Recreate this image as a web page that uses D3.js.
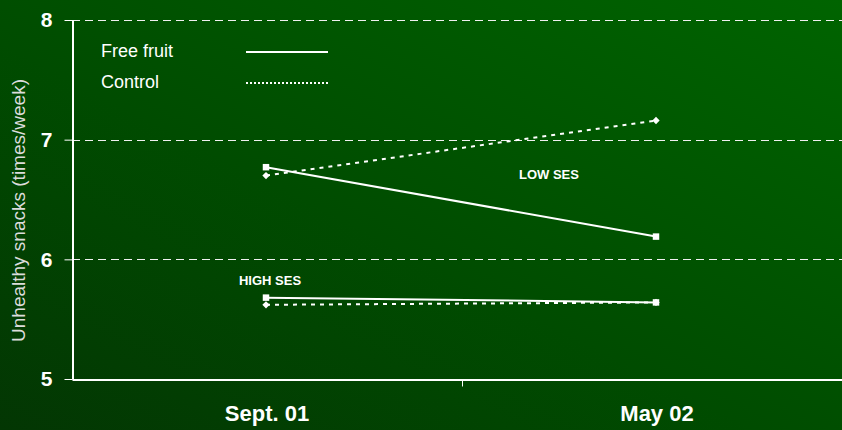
<!DOCTYPE html>
<html>
<head>
<meta charset="utf-8">
<script src="https://cdn.jsdelivr.net/npm/d3@7"></script>
<style>
  html, body { margin: 0; padding: 0; background: #004400; }
  svg { display: block; }
</style>
</head>
<body>
<svg id="chart" width="842" height="430"></svg>
<script>
// Measurement times
const periods = ["Sept. 01", "May 02"];
// Unhealthy snacks per week, by group
const freeFruitLow  = [6.77, 6.19];
const controlLow    = [6.70, 7.16];
const freeFruitHigh = [5.68, 5.64];
const controlHigh   = [5.62, 5.64];
const yTicks = [5, 6, 7, 8];
const legendLabels = ["Free fruit", "Control"];

const W = 842, H = 430;
const margin = { left: 72, top: 20, bottom: 51 };
const svg = d3.select("#chart");

// Background gradient
const defs = svg.append("defs");
const grad = defs.append("linearGradient")
  .attr("id", "bg").attr("x1", "0").attr("y1", "1").attr("x2", "1").attr("y2", "0");
grad.append("stop").attr("offset", "0%").attr("stop-color", "#033603");
grad.append("stop").attr("offset", "45%").attr("stop-color", "#004c00");
grad.append("stop").attr("offset", "100%").attr("stop-color", "#006400");
svg.append("rect").attr("width", W).attr("height", H).attr("fill", "url(#bg)");

const x = d3.scaleBand().domain(periods).range([margin.left, margin.left + 780]);
const y = d3.scaleLinear().domain([5, 8]).range([H - margin.bottom, margin.top]);

// Dashed horizontal gridlines
svg.append("g").selectAll("line")
  .data(yTicks.filter(d => d > 5))
  .join("line")
  .attr("x1", margin.left).attr("x2", W)
  .attr("y1", d => Math.round(y(d)) + 0.5).attr("y2", d => Math.round(y(d)) + 0.5)
  .attr("stroke", "#f0f0f0").attr("stroke-width", 1)
  .attr("stroke-dasharray", "8,5");

// Y axis
const yAxis = svg.append("g")
  .attr("transform", `translate(${margin.left + 0.5},0)`)
  .call(d3.axisLeft(y).tickValues(yTicks).tickSize(8).tickSizeOuter(0).tickPadding(12).tickFormat(d3.format("d")));
yAxis.select(".domain").attr("stroke", "#ffffff").attr("stroke-width", 2);
yAxis.selectAll(".tick line").attr("stroke", "#ffffff").attr("stroke-width", 1);
yAxis.selectAll(".tick text")
  .attr("fill", "#ffffff").attr("font-family", "Liberation Sans, Arial, sans-serif")
  .attr("font-size", 21).attr("font-weight", "bold");

// X axis
const xAxis = svg.append("g")
  .attr("transform", `translate(0,${Math.round(y(5)) + 0.5})`)
  .call(d3.axisBottom(x).tickSize(0).tickPadding(26));
xAxis.select(".domain").attr("stroke", "#ffffff").attr("stroke-width", 2);
xAxis.selectAll(".tick text")
  .attr("fill", "#ffffff").attr("font-family", "Liberation Sans, Arial, sans-serif")
  .attr("font-size", 22).attr("font-weight", "bold");
// Category separator ticks
xAxis.append("g").selectAll("line")
  .data(periods.slice(1))
  .join("line")
  .attr("x1", d => Math.round(x(d)) + 0.5).attr("x2", d => Math.round(x(d)) + 0.5)
  .attr("y1", 0).attr("y2", 7)
  .attr("stroke", "#ffffff").attr("stroke-width", 1);

// Y axis title
svg.append("text")
  .attr("transform", `translate(25,${(y(5) + y(8)) / 2 + 11}) rotate(-90)`)
  .attr("text-anchor", "middle")
  .attr("fill", "#dcdcdc").attr("font-family", "Liberation Sans, Arial, sans-serif")
  .attr("font-size", 19)
  .text("Unhealthy snacks (times/week)");

const cx = p => x(p) + x.bandwidth() / 2 - 1;
const line = d3.line().x((d, i) => cx(periods[i])).y(d => y(d));

function drawSeries(values, dashed, marker) {
  svg.append("path")
    .datum(values)
    .attr("d", line)
    .attr("fill", "none").attr("stroke", "#ffffff").attr("stroke-width", 2)
    .attr("stroke-dasharray", dashed ? "4,5" : null);
  const sym = d3.symbol().type(marker).size(marker === d3.symbolSquare ? 42 : 34);
  svg.append("g").selectAll("path")
    .data(values)
    .join("path")
    .attr("transform", (d, i) => `translate(${cx(periods[i])},${y(d)})`)
    .attr("d", sym)
    .attr("fill", "#ffffff");
}

drawSeries(controlLow, true, d3.symbolDiamond2);
drawSeries(freeFruitLow, false, d3.symbolSquare);
drawSeries(controlHigh, true, d3.symbolDiamond2);
drawSeries(freeFruitHigh, false, d3.symbolSquare);

// Group annotations
const ann = [
  { text: "LOW SES", x: 549, y: 179 },
  { text: "HIGH SES", x: 270, y: 285 }
];
svg.append("g").selectAll("text")
  .data(ann)
  .join("text")
  .attr("x", d => d.x).attr("y", d => d.y)
  .attr("text-anchor", "middle")
  .attr("fill", "#ffffff").attr("font-family", "Liberation Sans, Arial, sans-serif")
  .attr("font-size", 13).attr("font-weight", "bold")
  .text(d => d.text);

// Legend
const legend = svg.append("g").attr("transform", "translate(101,0)");
legendLabels.forEach((lab, i) => {
  const ly = 52 + i * 31;
  legend.append("text")
    .attr("x", 0).attr("y", ly + 5)
    .attr("fill", "#ffffff").attr("font-family", "Liberation Sans, Arial, sans-serif")
    .attr("font-size", 18)
    .text(lab);
  legend.append("line")
    .attr("x1", 145).attr("x2", 227)
    .attr("y1", ly).attr("y2", ly)
    .attr("stroke", "#ffffff").attr("stroke-width", 2)
    .attr("stroke-dasharray", i === 0 ? null : "2,2");
});
</script>
</body>
</html>
